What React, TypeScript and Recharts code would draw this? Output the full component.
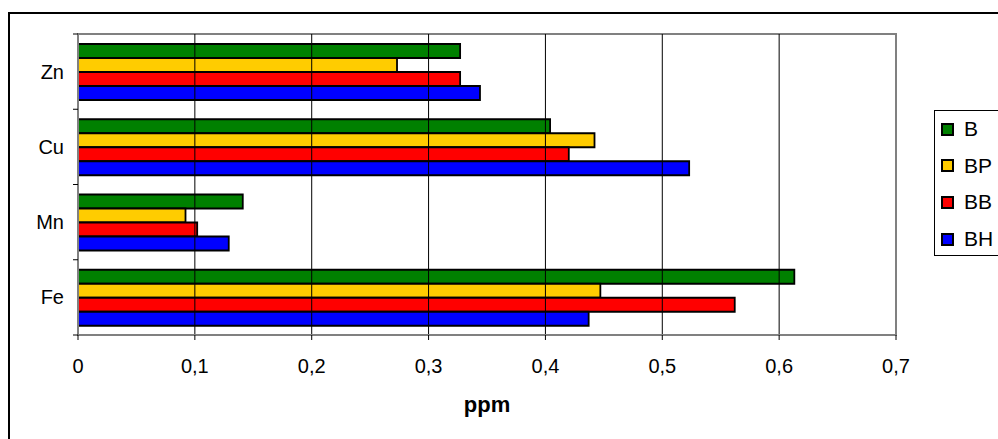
import React from 'react';
import { BarChart, Bar, XAxis, YAxis, ReferenceArea, ReferenceLine } from 'recharts';

const categories = ['Zn', 'Cu', 'Mn', 'Fe'];
const seriesB = [0.327, 0.404, 0.141, 0.613];
const seriesBP = [0.273, 0.442, 0.092, 0.447];
const seriesBB = [0.327, 0.42, 0.102, 0.562];
const seriesBH = [0.344, 0.523, 0.129, 0.437];
const xTicks = [0, 0.1, 0.2, 0.3, 0.4, 0.5, 0.6, 0.7];

const series = [
  { key: 'B', name: 'B', color: '#008000', values: seriesB },
  { key: 'BP', name: 'BP', color: '#FFCC00', values: seriesBP },
  { key: 'BB', name: 'BB', color: '#FF0000', values: seriesBB },
  { key: 'BH', name: 'BH', color: '#0000FF', values: seriesBH },
];

const data = categories.map((c, i) => {
  const row: Record<string, string | number> = { cat: c };
  series.forEach((s) => {
    row[s.key] = s.values[i];
  });
  return row;
});

const fmt = (v: number) => (v === 0 ? '0' : v.toFixed(1).replace('.', ','));

const TICK_MARGIN = 14;
const TICK_LEN = 5;

const CatTick = (props: any) => {
  const { x, y, payload, index } = props;
  const half = payload && typeof payload.offset === 'number' ? payload.offset : 0;
  const ax = x + TICK_MARGIN;
  const isLast = index === categories.length - 1;
  return (
    <g>
      <text x={x} y={y} dy="0.355em" textAnchor="end" fill="#000" fontSize={20}>
        {payload.value}
      </text>
      {half > 0 && (
        <line x1={ax - TICK_LEN} x2={ax} y1={y - half} y2={y - half} stroke="#000" strokeWidth={1} />
      )}
      {half > 0 && isLast && (
        <line x1={ax - TICK_LEN} x2={ax} y1={y + half} y2={y + half} stroke="#000" strokeWidth={1} />
      )}
    </g>
  );
};

export default function App() {
  return (
    <div
      style={{
        position: 'absolute',
        left: 0,
        top: 0,
        width: 998,
        height: 439,
        overflow: 'hidden',
        background: '#fff',
        fontFamily: "Arial, 'Liberation Sans', sans-serif",
      }}
    >
      <div
        style={{
          position: 'absolute',
          left: 8,
          top: 12,
          width: 1020,
          height: 460,
          border: '2px solid #000',
          boxSizing: 'border-box',
        }}
      />
      <div style={{ position: 'absolute', left: 0, top: 0 }}>
        <BarChart
          width={998}
          height={439}
          data={data}
          layout="vertical"
          margin={{ top: 34, right: 102, bottom: 0, left: 0 }}
          barCategoryGap="13.3%"
          barGap={0}
        >
          <XAxis
            xAxisId="x"
            type="number"
            domain={[0, 0.7]}
            ticks={xTicks}
            tickFormatter={fmt}
            height={104}
            tickSize={5}
            tickMargin={19}
            tick={{ fill: '#000', fontSize: 20 }}
            tickLine={{ stroke: '#000' }}
            axisLine={{ stroke: '#808080', strokeWidth: 2 }}
            label={{
              value: 'ppm',
              position: 'insideBottom',
              offset: 27,
              style: { fontWeight: 'bold', fontSize: 22, fill: '#000' },
            }}
          />
          <YAxis
            yAxisId="cat"
            type="category"
            dataKey="cat"
            width={78}
            tickSize={0}
            tickMargin={TICK_MARGIN}
            tickLine={false}
            axisLine={{ stroke: '#808080', strokeWidth: 2 }}
            tick={<CatTick />}
          />
          {xTicks.slice(1, -1).map((v) => (
            <ReferenceLine key={v} x={v} xAxisId="x" yAxisId="cat" stroke="#000" strokeWidth={1} />
          ))}
          <ReferenceArea
            xAxisId="x"
            yAxisId="cat"
            x1={0}
            x2={0.7}
            fill="none"
            stroke="#808080"
            strokeWidth={2}
            ifOverflow="visible"
          />
          {series.map((s) => (
            <Bar
              key={s.key}
              dataKey={s.key}
              name={s.name}
              xAxisId="x"
              yAxisId="cat"
              fill={s.color}
              stroke="#000"
              strokeWidth={1.8}
              isAnimationActive={false}
            />
          ))}
        </BarChart>
      </div>
      <div
        style={{
          position: 'absolute',
          left: 934,
          top: 110,
          width: 80,
          height: 146,
          border: '1px solid #000',
          boxSizing: 'border-box',
          background: '#fff',
        }}
      >
        {series.map((s) => (
          <div
            key={s.key}
            style={{ height: 36.6, display: 'flex', alignItems: 'center', fontSize: 21, color: '#000' }}
          >
            <div
              style={{
                width: 13,
                height: 13,
                marginLeft: 6,
                marginRight: 10,
                background: s.color,
                border: '2px solid #000',
                boxSizing: 'border-box',
              }}
            />
            <span>{s.name}</span>
          </div>
        ))}
      </div>
    </div>
  );
}
